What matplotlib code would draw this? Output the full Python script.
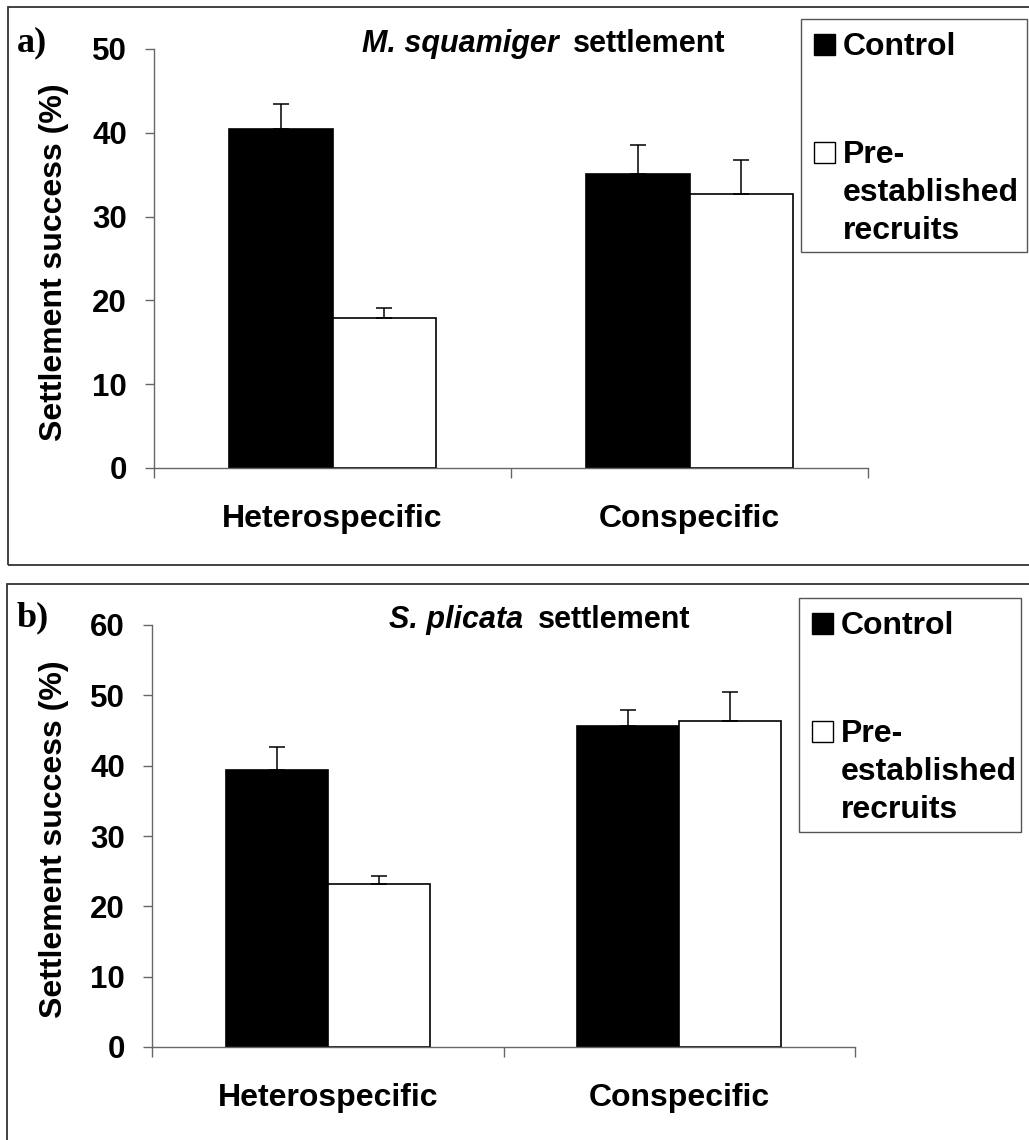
import numpy as np
import matplotlib
matplotlib.use("Agg")
import matplotlib.pyplot as plt
from matplotlib.patches import Rectangle

plt.rcParams['font.family'] = ['Liberation Sans', 'DejaVu Sans']
plt.rcParams['font.weight'] = 'bold'

# data
categories = ["Heterospecific", "Conspecific"]
legend_labels = ["Control", "Pre-", "established", "recruits"]

squamiger_control = [40.5, 35.1]
squamiger_control_se = [2.9, 3.5]
squamiger_pre = [17.9, 32.7]
squamiger_pre_se = [1.2, 4.0]

plicata_control = [39.4, 45.7]
plicata_control_se = [3.3, 2.2]
plicata_pre = [23.2, 46.4]
plicata_pre_se = [1.1, 4.1]

W, H = 1029, 1140
fig = plt.figure(figsize=(W / 100, H / 100), dpi=100)


def fx(x):
    return x / W


def fy(y):
    return 1 - y / H


def panel(rect, control, control_se, pre, pre_se, ymax, species, title_split, title_y,
          letter, frame, legend_box):
    ax = fig.add_axes(rect)
    x = np.arange(len(categories))
    w = 0.29
    ax.bar(x - w / 2, control, w, color="black", edgecolor="black", linewidth=1.2)
    ax.bar(x + w / 2, pre, w, color="white", edgecolor="black", linewidth=1.2)
    ax.errorbar(x - w / 2, control, yerr=[np.zeros(2), control_se], fmt="none",
                ecolor="black", elinewidth=1.1, capsize=5.5, capthick=1.1)
    ax.errorbar(x + w / 2, pre, yerr=[np.zeros(2), pre_se], fmt="none",
                ecolor="black", elinewidth=1.1, capsize=5.5, capthick=1.1)

    ax.set_xlim(-0.5, 1.5)
    ax.set_ylim(0, ymax)
    ax.set_yticks(np.arange(0, ymax + 1, 10))
    ax.set_xticks(x)
    ax.set_xticklabels(categories)
    ax.set_xticks([-0.5, 0.5, 1.5], minor=True)
    ax.tick_params(axis="x", which="major", length=0, pad=26, labelsize=23)
    ax.tick_params(axis="x", which="minor", length=7, width=1, color="#666666")
    ax.tick_params(axis="y", length=6.5, width=1, color="#666666", pad=13, labelsize=22.5)
    for lab in ax.get_xticklabels() + ax.get_yticklabels():
        lab.set_fontweight("bold")
    for s in ["top", "right"]:
        ax.spines[s].set_visible(False)
    for s in ["left", "bottom"]:
        ax.spines[s].set_color("#666666")
        ax.spines[s].set_linewidth(1)

    # y label
    ymid = (rect[1] + rect[3] / 2)
    fig.text(fx(54), ymid - 0.003, "Settlement success (%)", rotation=90, ha="center",
             va="center", fontsize=23, fontweight="bold")

    # title: italic species name + "settlement"
    fig.text(fx(title_split[0]), fy(title_y), species, ha="right", va="baseline",
             fontsize=22, fontweight="bold", fontstyle="italic")
    fig.text(fx(title_split[1]), fy(title_y), "settlement", ha="left", va="baseline",
             fontsize=22, fontweight="bold")

    # panel letter
    fig.text(fx(17), fy(letter[1]), letter[0], ha="left", va="baseline",
             fontsize=26, fontweight="bold", family="Liberation Serif")

    # outer frame
    fl, ft, fr, fb = frame
    fig.add_artist(Rectangle((fx(fl), fy(fb)), fx(fr - fl), (fb - ft) / H,
                             transform=fig.transFigure, fill=False,
                             edgecolor="#333333", linewidth=1.3, clip_on=False))

    # legend box
    bl, bt, br, bb = legend_box
    fig.add_artist(Rectangle((fx(bl), fy(bb)), fx(br - bl), (bb - bt) / H,
                             transform=fig.transFigure, fill=False,
                             edgecolor="#555555", linewidth=1.0))
    sq = 21
    for face, base in [("black", bt + 36), ("white", bt + 144)]:
        fig.add_artist(Rectangle((fx(bl + 13), fy(base)), fx(sq), sq / H,
                                 transform=fig.transFigure, facecolor=face,
                                 edgecolor="black", linewidth=1.0))
    tx = bl + 42
    for lab, off in zip(legend_labels, [36, 144, 182, 220]):
        fig.text(fx(tx), fy(bt + off), lab, ha="left", va="baseline",
                 fontsize=23, fontweight="bold")
    return ax


# panel a
panel([fx(154), fy(468), fx(868 - 154), (468 - 49) / H],
      squamiger_control, squamiger_control_se, squamiger_pre, squamiger_pre_se,
      50, "M. squamiger", (559, 573), 52, ("a)", 51),
      (8, 7, 1040, 565), (801, 19, 1027, 252))

# panel b
panel([fx(152), fy(1047), fx(855 - 152), (1047 - 625) / H],
      plicata_control, plicata_control_se, plicata_pre, plicata_pre_se,
      60, "S. plicata", (523, 538), 628, ("b)", 626),
      (7, 584, 1040, 1150), (799, 598, 1021, 832))

fig.savefig("out.png", dpi=100)
